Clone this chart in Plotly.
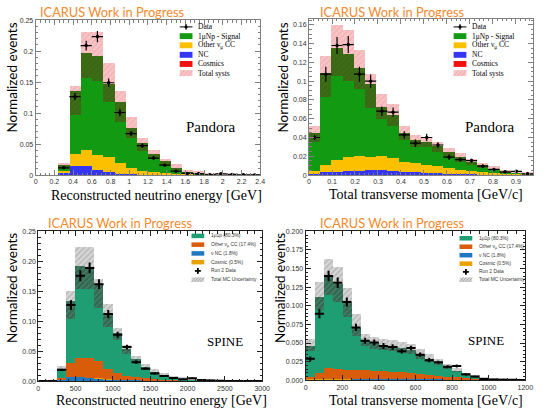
import numpy as np
import plotly.graph_objects as go

W, H = 550, 414

# ---------------- Pandora : reconstructed neutrino energy [GeV] ----------------
pe_lo, pe_w, pe_n = 0.24, 0.12, 18
pe_nc = [0.003, 0.0132, 0.0132, 0.007, 0.005, 0.002, 0.001, 0.0005, 0.0003, 0.0002, 0.0001,
         0, 0, 0, 0, 0, 0, 0]
pe_cosmic = [0, 0.0004, 0.0004, 0.0003, 0.0002, 0.0001, 0, 0, 0, 0, 0, 0, 0, 0, 0, 0, 0, 0]
pe_other = [0.003, 0.0208, 0.0268, 0.024, 0.0235, 0.0175, 0.0106, 0.0058, 0.0037, 0.0024,
            0.0019, 0.001, 0.0006, 0.0003, 0.0003, 0.0002, 0.0001, 0.0001]
pe_signal = [0.010, 0.1015, 0.157, 0.161, 0.1175, 0.0975, 0.0644, 0.0447, 0.0298, 0.0194,
             0.0096, 0.0043, 0.0024, 0.0013, 0.0007, 0.0005, 0.0003, 0.0001]
pe_low = [0.009, 0.097, 0.157, 0.151, 0.117, 0.0854, 0.059, 0.038, 0.0248, 0.016, 0.0074,
          0.0035, 0.002, 0.0010, 0.0006, 0.0004, 0.0002, 0.0001]
pe_high = [0.0195, 0.1435, 0.230, 0.230, 0.180, 0.1355, 0.0934, 0.060, 0.0406, 0.0258,
           0.0169, 0.008, 0.0047, 0.0026, 0.0015, 0.0010, 0.0006, 0.0004]
pe_data = [0.0116, 0.1266, 0.209, 0.2236, 0.149, 0.101, 0.067, 0.0475, 0.0274, 0.016,
           0.0063, 0.0026, 0.002, 0.0005, 0.002, 0.001, 0.0003, 0.0002]
pe_err = [0.002, 0.006, 0.008, 0.009, 0.007, 0.006, 0.004, 0.004, 0.003, 0.002, 0.0015,
          0.001, 0.001, 0.0008, 0.001, 0.0008, 0.0005, 0.0005]

# ---------------- Pandora : total transverse momenta [GeV/c] ----------------
pp_lo, pp_w, pp_n = 0.0, 0.04875, 20
pp_nc = [0.0022, 0.003, 0.0035, 0.0038, 0.004, 0.005, 0.005, 0.0042, 0.0035, 0.003, 0.0028,
         0.002, 0.0017, 0.0012, 0.001, 0.0008, 0.0006, 0.0004, 0.0003, 0.0002]
pp_cosmic = [0.0002, 0.0003, 0.0003, 0.0003, 0.0003, 0.0002, 0.0002, 0.0002, 0.0001, 0.0001,
             0, 0, 0, 0, 0, 0, 0, 0, 0, 0]
pp_other = [0.002, 0.0082, 0.013, 0.0151, 0.016, 0.0143, 0.015, 0.0138, 0.0105, 0.010, 0.0084,
            0.0075, 0.006, 0.0048, 0.004, 0.0027, 0.0019, 0.0011, 0.0007, 0.0004]
pp_signal = [0.0403, 0.0973, 0.119, 0.1101, 0.0945, 0.0777, 0.0525, 0.0457, 0.031, 0.0245,
             0.0245, 0.022, 0.0168, 0.013, 0.0097, 0.007, 0.0052, 0.0027, 0.0025, 0.0012]
pp_low = [0.035, 0.083, 0.1057, 0.1005, 0.0917, 0.0714, 0.060, 0.053, 0.0375, 0.0305, 0.0298,
          0.0252, 0.020, 0.0147, 0.011, 0.0077, 0.0055, 0.003, 0.0025, 0.0012]
pp_high = [0.0525, 0.1267, 0.160, 0.1548, 0.1337, 0.1075, 0.0865, 0.076, 0.053, 0.0427, 0.041,
           0.0357, 0.0294, 0.0235, 0.0175, 0.013, 0.0095, 0.006, 0.005, 0.0025]
pp_data = [0.040, 0.1075, 0.138, 0.139, 0.1075, 0.100, 0.068, 0.067, 0.0427, 0.034, 0.040,
           0.032, 0.019, 0.0165, 0.0154, 0.0095, 0.006, 0.0035, 0.004, 0.0014]
pp_err = [0.003, 0.008, 0.009, 0.009, 0.008, 0.007, 0.005, 0.005, 0.004, 0.004, 0.004, 0.003,
          0.003, 0.002, 0.002, 0.002, 0.0015, 0.001, 0.001, 0.0008]

# ---------------- SPINE : reconstructed neutrino energy ----------------
se_lo, se_w, se_n = 0, 125, 24
se_nc = [0, 0, 0.002, 0.0066, 0.0066, 0.005, 0.004, 0.0025, 0.0015, 0.001, 0.0007, 0.0005,
         0.0003, 0.0002, 0.0001, 0.0001, 0, 0, 0, 0, 0, 0, 0, 0]
se_cosmic = [0, 0, 0, 0.0004, 0.0005, 0.0004, 0.0003, 0.0002, 0, 0, 0, 0, 0, 0, 0, 0, 0, 0,
             0, 0, 0, 0, 0, 0]
se_other = [0, 0, 0.0035, 0.0234, 0.0314, 0.033, 0.029, 0.0165, 0.0122, 0.0072, 0.0059,
            0.0039, 0.003, 0.002, 0.0014, 0.0009, 0.0008, 0.0005, 0.0003, 0.0002, 0.0001,
            0.0001, 0.0001, 0]
se_signal = [0, 0, 0.0145, 0.1036, 0.1525, 0.1516, 0.1277, 0.0948, 0.0653, 0.0454, 0.030,
             0.0191, 0.012, 0.0076, 0.0051, 0.0028, 0.002, 0.0013, 0.0008, 0.0005, 0.0004,
             0.0003, 0.0002, 0.0002]
se_low = [0, 0, 0.0164, 0.104, 0.153, 0.153, 0.121, 0.090, 0.068, 0.045, 0.0317, 0.020,
          0.0126, 0.008, 0.0055, 0.003, 0.002, 0.0012, 0.0007, 0.0004, 0.0003, 0.0002,
          0.0001, 0.0001]
se_high = [0, 0, 0.0246, 0.150, 0.224, 0.2226, 0.1707, 0.1286, 0.0875, 0.060, 0.041, 0.0273,
           0.019, 0.012, 0.008, 0.0049, 0.0038, 0.0025, 0.0015, 0.001, 0.0007, 0.0006,
           0.0005, 0.0004]
se_data = [0.0003, 0.0003, 0.019, 0.127, 0.176, 0.189, 0.162, 0.112, 0.0777, 0.057, 0.0317,
           0.021, 0.013, 0.0088, 0.0055, 0.0033, 0.005, 0.002, 0.0012, 0.0008, 0.0005,
           0.0003, 0.0003, 0.0002]
se_err = [0.0005, 0.0005, 0.002, 0.008, 0.009, 0.009, 0.008, 0.007, 0.005, 0.004, 0.003,
          0.002, 0.002, 0.0015, 0.001, 0.001, 0.001, 0.001, 0.0008, 0.0006, 0.0005, 0.0004,
          0.0004, 0.0003]

# ---------------- SPINE : total transverse momenta ----------------
sp_lo, sp_w, sp_n = 0, 50, 24
sp_nc = [0.0005, 0.0008, 0.001, 0.001, 0.001, 0.0012, 0.0012, 0.0013, 0.0013, 0.0012, 0.0011,
         0.001, 0.0008, 0.0006, 0.0005, 0.0004, 0.0003, 0.0002, 0.0001, 0.0001, 0, 0, 0, 0]
sp_cosmic = [0.0001, 0.0002, 0.0003, 0.0003, 0.0002, 0.0002, 0.0002, 0.0001, 0.0001, 0.0001,
             0, 0, 0, 0, 0, 0, 0, 0, 0, 0, 0, 0, 0, 0]
sp_other = [0.003, 0.0085, 0.0144, 0.0135, 0.0127, 0.0125, 0.0116, 0.0107, 0.0102, 0.0098,
            0.0089, 0.0083, 0.0072, 0.0064, 0.0052, 0.004, 0.0032, 0.0023, 0.0017, 0.0011,
            0.0008, 0.0005, 0.0003, 0.0002]
sp_signal = [0.0419, 0.1022, 0.1226, 0.1145, 0.0913, 0.0559, 0.0392, 0.037, 0.0345, 0.034,
             0.033, 0.0307, 0.0264, 0.0216, 0.0176, 0.0132, 0.0093, 0.005, 0.0026, 0.0014,
             0.0008, 0.0005, 0.0004, 0.0003]
sp_low = [0.0388, 0.094, 0.1137, 0.105, 0.084, 0.0586, 0.0454, 0.042, 0.040, 0.039, 0.0366,
          0.0344, 0.0286, 0.024, 0.0198, 0.0145, 0.010, 0.0057, 0.0035, 0.002, 0.0012, 0.0007,
          0.0005, 0.0003]
sp_high = [0.055, 0.131, 0.163, 0.151, 0.124, 0.0885, 0.062, 0.0577, 0.055, 0.054, 0.0507,
           0.0476, 0.041, 0.0344, 0.0286, 0.021, 0.0154, 0.0093, 0.0057, 0.0035, 0.0022,
           0.0015, 0.001, 0.0007]
sp_data = [0.029, 0.0894, 0.140, 0.131, 0.105, 0.071, 0.053, 0.0507, 0.046, 0.0445, 0.039,
           0.0432, 0.0344, 0.027, 0.0242, 0.018, 0.019, 0.008, 0.005, 0.0018, 0.001, 0.0008,
           0.0005, 0.0003]
sp_err = [0.003, 0.006, 0.007, 0.007, 0.006, 0.005, 0.004, 0.004, 0.004, 0.004, 0.003, 0.003,
          0.003, 0.003, 0.002, 0.002, 0.002, 0.0015, 0.001, 0.001, 0.0008, 0.0006, 0.0005,
          0.0004]

pandora_labels = ["Data", "1\u03bcNp - Signal", "Other \u03bd<sub>\u03bc</sub> CC", "NC",
                  "Cosmics", "Total systs"]
spine_labels = ["1\u03bc1p (80.3%)", "Other \u03bd<sub>\u03bc</sub> CC (17.4%)",
                "\u03bd NC (1.8%)", "Cosmic (0.5%)", "Run 2 Data", "Total MC Uncertainty"]

ORANGE = "#f38a2c"
PAN = dict(signal="#139a13", other="#fdc000", nc="#3535f5", cosmic="#f51010",
           dark="#3d6b16", band="#f8c5c7", hatch="#ef9ea3", frame="#808080")
SPI = dict(signal="#1f9e74", other="#d95c0a", nc="#1f78c0", cosmic="#e8a300",
           dark="#3f7a62", darkhatch="#274a3c", band="#d6d6d6", hatch="#9c9c9c",
           frame="#202020")


def px(x, y):
    return x / W, 1 - y / H


fig = go.Figure()


def add_panel(k, lo, w, n, stack, low, high, data, err, st, spine):
    xa, ya = "x" + ("" if k == 1 else str(k)), "y" + ("" if k == 1 else str(k))
    centers = lo + w * (np.arange(n) + 0.5)
    base = np.zeros(n)
    for vals, col in stack:
        v = np.array(vals, dtype=float)
        fig.add_trace(go.Bar(x=centers, y=v, base=base.copy(), width=w, marker_color=col,
                             marker_line_width=0, xaxis=xa, yaxis=ya, showlegend=False,
                             hoverinfo="skip"))
        base = base + v
    mc = base
    low, high = np.array(low), np.array(high)
    dark = np.clip(mc - low, 0, None)
    light = np.clip(high - mc, 0, None)
    if spine:
        dpat = dict(shape="/", fgcolor=st["darkhatch"], size=4, solidity=0.45)
    else:
        dpat = dict(shape="/", fgcolor="#2f5a0e", size=4, solidity=0.25)
    fig.add_trace(go.Bar(x=centers, y=dark, base=np.minimum(low, mc), width=w,
                         marker=dict(color=st["dark"], line_width=0, pattern=dpat),
                         xaxis=xa, yaxis=ya, showlegend=False, hoverinfo="skip"))
    fig.add_trace(go.Bar(x=centers, y=light, base=mc, width=w,
                         marker=dict(color=st["band"], line_width=0,
                                     pattern=dict(shape="/", fgcolor=st["hatch"], size=4,
                                                  solidity=0.4)),
                         xaxis=xa, yaxis=ya, showlegend=False, hoverinfo="skip"))
    thick = 2.0 if spine else 1.2
    fig.add_trace(go.Scatter(x=centers, y=data, mode="markers", xaxis=xa, yaxis=ya,
                             marker=dict(size=0.1 if spine else 3.5, color="black"),
                             error_x=dict(type="constant", value=w / 2, width=0,
                                          thickness=thick, color="black"),
                             error_y=dict(type="data", array=err, width=0,
                                          thickness=thick, color="black"),
                             showlegend=False, hoverinfo="skip"))


add_panel(1, pe_lo, pe_w, pe_n,
          [(pe_cosmic, PAN["cosmic"]), (pe_nc, PAN["nc"]), (pe_other, PAN["other"]),
           (pe_signal, PAN["signal"])], pe_low, pe_high, pe_data, pe_err, PAN, False)
add_panel(2, pp_lo, pp_w, pp_n,
          [(pp_cosmic, PAN["cosmic"]), (pp_nc, PAN["nc"]), (pp_other, PAN["other"]),
           (pp_signal, PAN["signal"])], pp_low, pp_high, pp_data, pp_err, PAN, False)
add_panel(3, se_lo, se_w, se_n,
          [(se_nc, SPI["nc"]), (se_cosmic, SPI["cosmic"]), (se_other, SPI["other"]),
           (se_signal, SPI["signal"])], se_low, se_high, se_data, se_err, SPI, True)
add_panel(4, sp_lo, sp_w, sp_n,
          [(sp_nc, SPI["nc"]), (sp_cosmic, SPI["cosmic"]), (sp_other, SPI["other"]),
           (sp_signal, SPI["signal"])], sp_low, sp_high, sp_data, sp_err, SPI, True)


def axis(dom, rng, dtick, minor, fmt, anchor, frame, tsize):
    return dict(domain=dom, range=rng, dtick=dtick, tick0=0, tickformat=fmt, anchor=anchor,
                showline=True, mirror="ticks", linecolor=frame, linewidth=1,
                ticks="inside", ticklen=5, tickwidth=0.8, tickcolor=frame,
                minor=dict(ticks="inside", ticklen=2.5, dtick=minor, tickcolor=frame),
                showgrid=False, zeroline=False, fixedrange=True,
                tickfont=dict(family="Liberation Sans", size=tsize, color="#333333"))


panels = [
    # x domain px, y domain px, x range, y range, ticks, style
    ((34.3, 263), (16.5, 174), [0, 2.4], [0, 0.25], 0.2, 0.05, 0.05, 0.01, "", "", PAN),
    ((312.7, 541), (15, 174), [0, 0.975], [0, 0.1665], 0.1, 0.02, 0.02, 0.005, "", "", PAN),
    ((37, 265), (231.3, 383.7), [0, 3000], [0, 0.25], 500, 100, 0.05, 0.01, "", ".2f", SPI),
    ((309.3, 533), (231.3, 382.7), [0, 1200], [0, 0.2], 200, 50, 0.025, 0.005, "", ".3f", SPI),
]
layout = {}
for i, (xd, yd, xr, yr, dx, mx, dy, my, fx, fy, st) in enumerate(panels, start=1):
    s = "" if i == 1 else str(i)
    layout["xaxis" + s] = axis([xd[0] / W, xd[1] / W], xr, dx, mx, fx, "y" + s, st["frame"], 7)
    layout["yaxis" + s] = axis([1 - yd[1] / H, 1 - yd[0] / H], yr, dy, my, fy, "x" + s,
                               st["frame"], 7)

ann = []
shapes = []


def text(x, y, t, size, fam, color="black", anchor="center", angle=0):
    ax, ay = px(x, y)
    ann.append(dict(x=ax, y=ay, xref="paper", yref="paper", text=t, showarrow=False,
                    xanchor=anchor, yanchor="middle", textangle=angle,
                    font=dict(family=fam, size=size, color=color)))


def rect(x0, y0, x1, y1, col):
    a0, b0 = px(x0, y0)
    a1, b1 = px(x1, y1)
    shapes.append(dict(type="rect", xref="paper", yref="paper", x0=a0, y0=b0, x1=a1, y1=b1,
                       fillcolor=col, line=dict(width=0)))


def seg(x0, y0, x1, y1, col, wd):
    a0, b0 = px(x0, y0)
    a1, b1 = px(x1, y1)
    shapes.append(dict(type="line", xref="paper", yref="paper", x0=a0, y0=b0, x1=a1, y1=b1,
                       line=dict(color=col, width=wd)))


# titles / labels
for cx, cy in [(112, 8), (397, 8.5), (120, 222.5), (397, 222.5)]:
    text(cx, cy, "ICARUS Work in Progress", 12.8, "Lato", ORANGE)
for cx, cy, t in [(157, 195, "Reconstructed neutrino energy [GeV]"),
                  (432, 193.5, "Total transverse momenta [GeV/c]"),
                  (162, 403, "Reconstructed neutrino energy [GeV]"),
                  (432, 403.5, "Total transverse momenta [GeV/c]")]:
    text(cx, cy, t, 14, "Liberation Serif")
for cx, cy in [(10, 75), (286, 75), (10, 289), (283, 289)]:
    text(cx, cy, "Normalized events", 13.5, "Lato", angle=-90)
text(212, 125, "Pandora", 15, "Liberation Serif")
text(497, 125, "Pandora", 15, "Liberation Serif")
text(227, 343, "SPINE", 13, "Liberation Serif")
text(493, 342, "SPINE", 13, "Liberation Serif")

# Pandora legends
for sx in (181, 460):
    ys = [23.3, 32.7, 42, 51.7, 61, 70.3]
    cols = [None, PAN["signal"], PAN["other"], PAN["nc"], PAN["cosmic"], PAN["band"]]
    for yy, lab, col in zip(ys, pandora_labels, cols):
        if col is None:
            seg(sx, yy, sx + 13, yy, "black", 1)
            seg(sx + 6.5, yy - 3, sx + 6.5, yy + 3, "black", 1)
            a, b = px(sx + 6.5, yy)
            shapes.append(dict(type="circle", xref="paper", yref="paper",
                               x0=a - 1.6 / W, x1=a + 1.6 / W, y0=b - 1.6 / H, y1=b + 1.6 / H,
                               fillcolor="black", line_width=0))
        else:
            rect(sx, yy - 3, sx + 13, yy + 3, col)
            if col == PAN["band"]:
                for d in (0, 4, 8):
                    seg(sx + d, yy + 3, sx + d + 5, yy - 3, PAN["hatch"], 0.8)
        text(sx + 16.5, yy, lab, 7.5, "Liberation Serif", anchor="left")

# SPINE legends
for sx, ys in ((193, [235.9, 244.8, 253.7, 262.6, 271.5, 280.4]),
               (466, [238.3, 246.9, 255.5, 264.1, 272.5, 280.5])):
    cols = [SPI["signal"], SPI["other"], SPI["nc"], SPI["cosmic"], None, SPI["band"]]
    for yy, lab, col in zip(ys, spine_labels, cols):
        if col is None:
            seg(sx + 3.5, yy, sx + 9.5, yy, "black", 1.8)
            seg(sx + 6.5, yy - 3, sx + 6.5, yy + 3, "black", 1.8)
        else:
            rect(sx, yy - 2.3, sx + 13, yy + 2.3, col)
            if col == SPI["band"]:
                for d in (0, 3, 6, 9):
                    seg(sx + d, yy + 2.3, sx + d + 4, yy - 2.3, SPI["hatch"], 0.8)
        text(sx + 17.5, yy, lab, 4.9, "Liberation Sans", "#333333", anchor="left")

fig.update_layout(width=W, height=H, margin=dict(l=0, r=0, t=0, b=0),
                  paper_bgcolor="white", plot_bgcolor="white", barmode="overlay",
                  bargap=0, annotations=ann, shapes=shapes, showlegend=False, **layout)
fig.write_html("out.html", config={"displayModeBar": False},
               post_script="document.body.style.margin='0px';")
